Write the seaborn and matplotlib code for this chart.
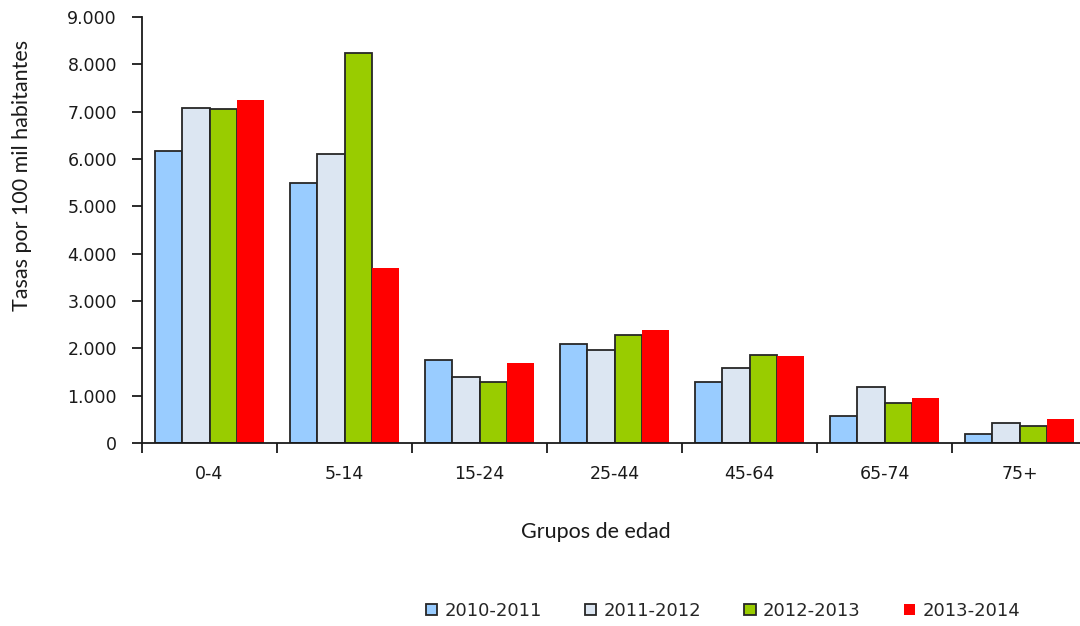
import matplotlib
matplotlib.use("Agg")
import matplotlib.pyplot as plt
from matplotlib.ticker import FuncFormatter, FixedLocator
import seaborn as sns
import pandas as pd

# Tasas por 100 mil habitantes, por grupo de edad y temporada
grupos = ["0-4", "5-14", "15-24", "25-44", "45-64", "65-74", "75+"]
temporadas = ["2010-2011", "2011-2012", "2012-2013", "2013-2014"]
t_2010_2011 = [6170, 5490, 1760, 2100, 1290, 565, 200]
t_2011_2012 = [7080, 6100, 1385, 1955, 1580, 1175, 425]
t_2012_2013 = [7050, 8230, 1290, 2290, 1860, 835, 365]
t_2013_2014 = [7240, 3690, 1700, 2380, 1830, 950, 515]
colores = ["#99CCFF", "#DCE6F2", "#99CC00", "#FF0000"]

series = [t_2010_2011, t_2011_2012, t_2012_2013, t_2013_2014]
df = pd.DataFrame(
    [(g, t, v) for t, vals in zip(temporadas, series) for g, v in zip(grupos, vals)],
    columns=["grupo", "temporada", "tasa"],
)

sns.set_theme(style="white")
plt.rcParams["font.family"] = ["Lato", "DejaVu Sans"]

fig = plt.figure(figsize=(10.8, 6.26), dpi=100)
ax = fig.add_axes([142 / 1080, 1 - 443 / 626, 945 / 1080, 426 / 626])

sns.barplot(
    data=df, x="grupo", y="tasa", hue="temporada", order=grupos,
    hue_order=temporadas, palette=colores, width=0.81, saturation=1,
    edgecolor="#262626", linewidth=1.3, ax=ax, legend=False,
)
# the last season is drawn without outline
for bar in ax.containers[3]:
    bar.set_edgecolor("none")
    bar.set_linewidth(0)

ax.set_xlim(-0.5, len(grupos) - 0.5)
ax.set_ylim(0, 9000)
ax.set_yticks(range(0, 9001, 1000))
ax.yaxis.set_major_formatter(FuncFormatter(lambda v, _: f"{v:,.0f}".replace(",", ".")))

for s in ["top", "right"]:
    ax.spines[s].set_visible(False)
for s in ["left", "bottom"]:
    ax.spines[s].set_color("#1a1a1a")
    ax.spines[s].set_linewidth(1.3)

# category labels centered, tick marks at the group boundaries
ax.xaxis.set_minor_locator(FixedLocator([i - 0.5 for i in range(len(grupos) + 1)]))
ax.tick_params(axis="x", which="major", length=0, pad=16, labelcolor="#1a1a1a")
ax.tick_params(axis="x", which="minor", bottom=True, length=7, width=1.3, color="#1a1a1a", direction="out")
ax.tick_params(axis="y", left=True, length=7, width=1.3, color="#1a1a1a", direction="out",
               pad=11, labelcolor="#1a1a1a")
for lab in ax.get_xticklabels() + ax.get_yticklabels():
    lab.set_fontfamily(["DejaVu Sans"])
    lab.set_fontsize(12.5)

ax.set_ylabel("Tasas por 100 mil habitantes", fontsize=15.5, color="#1a1a1a")
ax.yaxis.set_label_coords(-0.127, 0.627)
ax.yaxis.label.set_verticalalignment("center")
ax.set_xlabel("Grupos de edad", fontsize=15.5, color="#1a1a1a")
ax.xaxis.set_label_coords(0.48, -0.21)
ax.xaxis.label.set_verticalalignment("center")

handles = [ax.containers[i][0] for i in range(4)]
fig.legend(
    handles, temporadas, loc="center", bbox_to_anchor=(723 / 1080, 1 - 611 / 626),
    ncol=4, frameon=False, handlelength=0.62, handleheight=0.62, handletextpad=0.4,
    columnspacing=2.4, borderpad=0, prop={"family": ["DejaVu Sans"], "size": 13},
)

fig.savefig("out.png", dpi=100)
